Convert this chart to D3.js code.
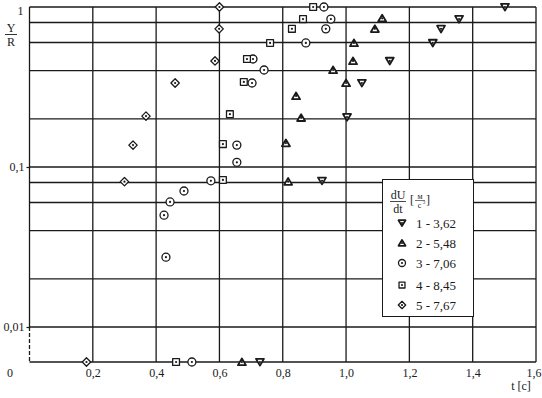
<!DOCTYPE html>
<html>
<head>
<meta charset="utf-8">
<script src="https://cdn.jsdelivr.net/npm/d3@7"></script>
<style>
  body { margin: 0; background: #fff; }
  svg { display: block; font-family: "Liberation Serif", "DejaVu Serif", serif; }
</style>
</head>
<body>
<div id="chart"></div>
<script>
// series: t [c] and Y/R values (0 = the "0" row at the bottom)
const series1_t = [0.728, 0.924, 1.003, 1.05, 1.138, 1.274, 1.30, 1.357, 1.502];
const series1_y = [0, 0.082, 0.205, 0.335, 0.46, 0.596, 0.73, 0.84, 1.0];

const series2_t = [0.671, 0.817, 0.81, 0.858, 0.842, 1.0, 0.959, 1.022, 1.025, 1.091, 1.114];
const series2_y = [0, 0.081, 0.141, 0.203, 0.278, 0.335, 0.404, 0.46, 0.596, 0.73, 0.85];

const series3_t = [0.513, 0.431, 0.425, 0.444, 0.488, 0.573, 0.655, 0.655, 0.703, 0.706, 0.741, 0.873, 0.936, 0.952, 0.93];
const series3_y = [0, 0.0273, 0.05, 0.0605, 0.0708, 0.082, 0.107, 0.137, 0.335, 0.473, 0.404, 0.596, 0.73, 0.84, 1.0];

const series4_t = [0.463, 0.611, 0.611, 0.633, 0.677, 0.687, 0.76, 0.829, 0.864, 0.896];
const series4_y = [0, 0.083, 0.139, 0.214, 0.34, 0.473, 0.596, 0.73, 0.84, 1.0];

const series5_t = [0.18, 0.30, 0.327, 0.368, 0.46, 0.586, 0.599, 0.60];
const series5_y = [0, 0.081, 0.137, 0.208, 0.335, 0.46, 0.73, 1.0];

const legendLabels = ["1 - 3,62", "2 - 5,48", "3 - 7,06", "4 - 8,45", "5 - 7,67"];
const markerTypes = ["down", "up", "circle", "square", "diamond"];

const xTicks = [0.2, 0.4, 0.6, 0.8, 1.0, 1.2, 1.4, 1.6];
const yGrid = [1, 0.8, 0.6, 0.4, 0.2, 0.1, 0.08, 0.06, 0.04, 0.02, 0.01];
const yLabels = [1, 0.1, 0.01];

const allSeries = [
  [series1_t, series1_y],
  [series2_t, series2_y],
  [series3_t, series3_y],
  [series4_t, series4_y],
  [series5_t, series5_y]
];

const width = 542, height = 398;
const baseY = 362; // the "0" row

const svg = d3.select("#chart").append("svg")
  .attr("width", width)
  .attr("height", height);

const x = d3.scaleLinear().domain([0, 1.6]).range([29.5, 536]);
const y = d3.scaleLog().domain([0.01, 1]).range([327, 7]);
const yPos = v => v === 0 ? baseY : y(v);

const ink = "#1a1a1a";
const serif = "Liberation Serif, DejaVu Serif, serif";

// grid
const grid = svg.append("g").attr("stroke", ink).attr("stroke-width", 1.3);
grid.selectAll("line.h").data(yGrid).enter().append("line")
  .attr("x1", x(0)).attr("x2", x(1.6))
  .attr("y1", d => y(d)).attr("y2", d => y(d));
grid.append("line")
  .attr("x1", x(0)).attr("x2", x(1.6))
  .attr("y1", baseY).attr("y2", baseY);
grid.selectAll("line.v").data(xTicks).enter().append("line")
  .attr("x1", d => x(d)).attr("x2", d => x(d))
  .attr("y1", y(1)).attr("y2", baseY);
// left axis: solid over log part, dashed down to the zero row
grid.append("line")
  .attr("x1", x(0)).attr("x2", x(0))
  .attr("y1", y(1)).attr("y2", y(0.01));
grid.append("line")
  .attr("x1", x(0)).attr("x2", x(0))
  .attr("y1", y(0.01)).attr("y2", baseY)
  .attr("stroke-dasharray", "4,2");

// axes (labels only)
const fmt = d => d3.format(".1f")(d).replace(".", ",");
const xAxis = svg.append("g")
  .attr("transform", `translate(0,${baseY})`)
  .call(d3.axisBottom(x).tickValues(xTicks).tickSize(0).tickPadding(6).tickFormat(fmt));
xAxis.select(".domain").remove();
xAxis.attr("font-family", serif);
xAxis.selectAll("text").attr("font-size", 12).attr("fill", ink);
// last label sits against the right edge
xAxis.selectAll(".tick").filter(d => d === 1.6).select("text")
  .attr("text-anchor", "end").attr("x", 5);

const yAxis = svg.append("g")
  .attr("transform", `translate(${x(0)},0)`)
  .call(d3.axisLeft(y).tickValues(yLabels).tickSize(3).tickPadding(2)
    .tickFormat(d => d === 1 ? "1" : String(d).replace(".", ",")));
yAxis.select(".domain").remove();
yAxis.attr("font-family", serif);
yAxis.selectAll("line").attr("stroke", ink).attr("stroke-width", 1.2);
yAxis.selectAll("text").attr("font-size", 12).attr("fill", ink);
yAxis.selectAll(".tick").filter(d => d === 1).select("line").remove();
yAxis.selectAll(".tick").filter(d => d === 1).select("text")
  .attr("x", -6).attr("dy", "0.6em");

svg.append("text").attr("x", 10).attr("y", 373).attr("font-size", 12)
  .attr("fill", ink).attr("text-anchor", "middle").attr("dy", "0.35em").text("0");

// Y/R label
svg.append("text").attr("x", 11).attr("y", 32).attr("font-size", 12)
  .attr("text-anchor", "middle").attr("fill", ink).text("Y");
svg.append("line").attr("x1", 5).attr("x2", 17).attr("y1", 34.5).attr("y2", 34.5)
  .attr("stroke", ink).attr("stroke-width", 0.9);
svg.append("text").attr("x", 11).attr("y", 46).attr("font-size", 12)
  .attr("text-anchor", "middle").attr("fill", ink).text("R");

// t [c] label
svg.append("text").attr("x", 521).attr("y", 390).attr("font-size", 12)
  .attr("text-anchor", "middle").attr("fill", ink).text("t [c]");

// markers
function drawMarker(g, type, cx, cy, s) {
  const h = s / 2;
  let path;
  if (type === "down") {
    path = `M${cx - h},${cy - h * 0.8}L${cx + h},${cy - h * 0.8}L${cx},${cy + h * 0.9}Z`;
  } else if (type === "up") {
    path = `M${cx - h},${cy + h * 0.8}L${cx + h},${cy + h * 0.8}L${cx},${cy - h * 0.9}Z`;
  } else if (type === "square") {
    path = `M${cx - h * 0.85},${cy - h * 0.85}h${h * 1.7}v${h * 1.7}h${-h * 1.7}Z`;
  } else if (type === "diamond") {
    path = `M${cx},${cy - h * 1.05}L${cx + h * 1.05},${cy}L${cx},${cy + h * 1.05}L${cx - h * 1.05},${cy}Z`;
  }
  if (type === "circle") {
    g.append("circle").attr("cx", cx).attr("cy", cy).attr("r", h)
      .attr("fill", "#fff").attr("stroke", ink).attr("stroke-width", 1.3);
  } else {
    g.append("path").attr("d", path)
      .attr("fill", "#fff").attr("stroke", ink)
      .attr("stroke-width", (type === "up" || type === "down") ? 1.8 : 1.3)
      .attr("stroke-linejoin", "round");
  }
  g.append("circle").attr("cx", cx).attr("cy", cy).attr("r", 1.1).attr("fill", ink);
}

const marks = svg.append("g");
allSeries.forEach(([ts, ys], i) => {
  ts.forEach((t, j) => {
    drawMarker(marks, markerTypes[i], x(t), yPos(ys[j]), 8);
  });
});

// legend
const lg = svg.append("g");
lg.append("rect").attr("x", 382.5).attr("y", 179.5).attr("width", 91).attr("height", 137)
  .attr("fill", "#fff").attr("stroke", ink).attr("stroke-width", 1);
lg.append("text").attr("x", 398).attr("y", 199).attr("font-size", 12)
  .attr("text-anchor", "middle").attr("fill", ink).text("dU");
lg.append("line").attr("x1", 390).attr("x2", 406).attr("y1", 201.5).attr("y2", 201.5)
  .attr("stroke", ink).attr("stroke-width", 0.8);
lg.append("text").attr("x", 398).attr("y", 213).attr("font-size", 12)
  .attr("text-anchor", "middle").attr("fill", ink).text("dt");
lg.append("text").attr("x", 410).attr("y", 204).attr("font-size", 12)
  .attr("fill", ink).text("[");
lg.append("text").attr("x", 420).attr("y", 199).attr("font-size", 8)
  .attr("text-anchor", "middle").attr("fill", ink).text("м");
lg.append("line").attr("x1", 415).attr("x2", 425).attr("y1", 200.5).attr("y2", 200.5)
  .attr("stroke", ink).attr("stroke-width", 0.6);
lg.append("text").attr("x", 419.5).attr("y", 208).attr("font-size", 8)
  .attr("text-anchor", "middle").attr("fill", ink).text("с");
lg.append("text").attr("x", 423).attr("y", 204).attr("font-size", 5)
  .attr("fill", ink).text("2");
lg.append("text").attr("x", 426).attr("y", 204).attr("font-size", 12)
  .attr("fill", ink).text("]");

const legendY = [223, 243, 263, 285, 305];
legendLabels.forEach((lab, i) => {
  drawMarker(lg, markerTypes[i], 402, legendY[i], 7);
  lg.append("text").attr("x", 416).attr("y", legendY[i]).attr("dy", "0.35em")
    .attr("font-size", 13).attr("fill", ink).text(lab);
});
</script>
</body>
</html>
